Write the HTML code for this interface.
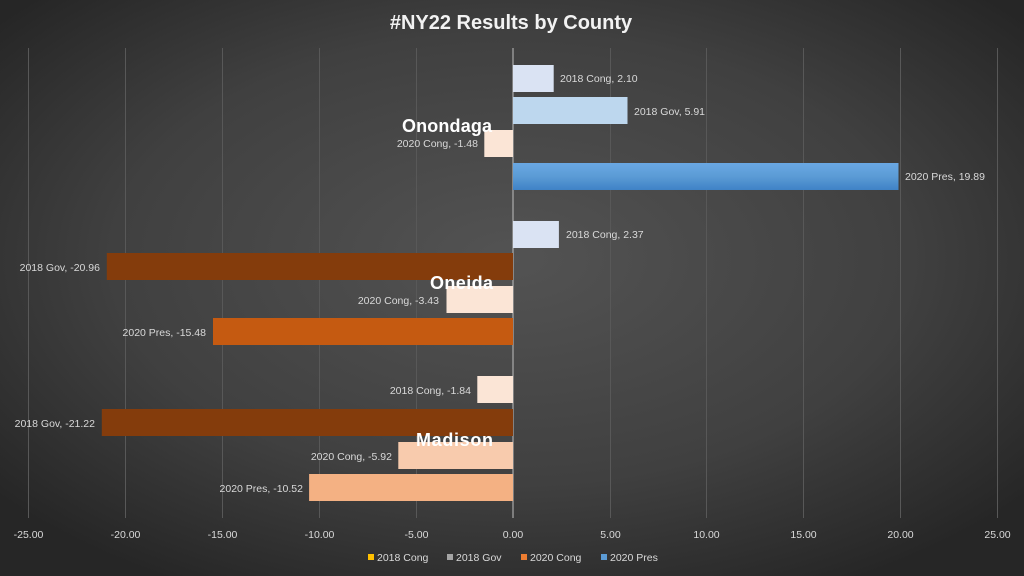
<!DOCTYPE html>
<html><head><meta charset="utf-8"><style>
html,body{margin:0;padding:0;width:1024px;height:576px;overflow:hidden;background:#333}
svg{display:block}
text{font-family:"Liberation Sans",sans-serif}
</style></head><body>
<svg width="1024" height="576" viewBox="0 0 1024 576" xmlns="http://www.w3.org/2000/svg">
<defs>
<radialGradient id="bg" cx="50%" cy="45%" r="65%">
<stop offset="0" stop-color="#535353"/>
<stop offset="0.6" stop-color="#404040"/>
<stop offset="1" stop-color="#262626"/>
</radialGradient>
<linearGradient id="blue" x1="0" y1="0" x2="0" y2="1">
<stop offset="0" stop-color="#6aa8e4"/><stop offset="0.5" stop-color="#5b9bd5"/><stop offset="1" stop-color="#3f82c6"/>
</linearGradient>
</defs>
<rect width="1024" height="576" fill="url(#bg)"/>
<g stroke="#585858" stroke-width="1">
<line x1="28.5" y1="48" x2="28.5" y2="518"/><line x1="125.5" y1="48" x2="125.5" y2="518"/>
<line x1="222.5" y1="48" x2="222.5" y2="518"/><line x1="319.5" y1="48" x2="319.5" y2="518"/>
<line x1="416.5" y1="48" x2="416.5" y2="518"/>
<line x1="610.5" y1="48" x2="610.5" y2="518"/><line x1="706.5" y1="48" x2="706.5" y2="518"/>
<line x1="803.5" y1="48" x2="803.5" y2="518"/><line x1="900.5" y1="48" x2="900.5" y2="518"/>
<line x1="997.5" y1="48" x2="997.5" y2="518"/>
</g>
<line x1="513" y1="48" x2="513" y2="518" stroke="#bfbfbf" stroke-width="1"/>
<text x="511" y="29" text-anchor="middle" fill="#f2f2f2" font-size="20" font-weight="bold">#NY22 Results by County</text>
<!-- Onondaga -->
<rect x="513" y="65" width="40.7" height="27" fill="#dae3f3"/>
<rect x="513" y="97" width="114.5" height="27" fill="#bdd7ee"/>
<rect x="484.3" y="130" width="28.7" height="27" fill="#fbe5d6"/>
<rect x="513" y="163" width="385.5" height="27" fill="url(#blue)"/>
<!-- Oneida -->
<rect x="513" y="221" width="45.9" height="27" fill="#dae3f3"/>
<rect x="106.8" y="253" width="406.2" height="27" fill="#843c0c"/>
<rect x="446.5" y="286" width="66.5" height="27" fill="#fbe5d6"/>
<rect x="213" y="318" width="300" height="27" fill="#c55a11"/>
<!-- Madison -->
<rect x="477.3" y="376" width="35.7" height="27" fill="#fbe5d6"/>
<rect x="101.8" y="409" width="411.2" height="27" fill="#843c0c"/>
<rect x="398.3" y="442" width="114.7" height="27" fill="#f8cbad"/>
<rect x="309.1" y="474" width="203.9" height="27" fill="#f4b183"/>
<g fill="#d9d9d9" font-size="10.5">
<text x="560" y="82">2018 Cong, 2.10</text>
<text x="634" y="115">2018 Gov, 5.91</text>
<text x="478" y="147" text-anchor="end">2020 Cong, -1.48</text>
<text x="905" y="180">2020 Pres, 19.89</text>
<text x="566" y="238">2018 Cong, 2.37</text>
<text x="100" y="271" text-anchor="end">2018 Gov, -20.96</text>
<text x="439" y="304" text-anchor="end">2020 Cong, -3.43</text>
<text x="206" y="336" text-anchor="end">2020 Pres, -15.48</text>
<text x="471" y="394" text-anchor="end">2018 Cong, -1.84</text>
<text x="95" y="427" text-anchor="end">2018 Gov, -21.22</text>
<text x="392" y="460" text-anchor="end">2020 Cong, -5.92</text>
<text x="303" y="492" text-anchor="end">2020 Pres, -10.52</text>
</g>
<g fill="#ffffff" font-size="18" font-weight="bold">
<text x="402" y="132" textLength="90">Onondaga</text>
<text x="430" y="289" textLength="63">Oneida</text>
<text x="416" y="446" textLength="77">Madison</text>
</g>
<g fill="#d9d9d9" font-size="10.5" text-anchor="middle">
<text x="28.5" y="538">-25.00</text><text x="125.5" y="538">-20.00</text>
<text x="222.5" y="538">-15.00</text><text x="319.5" y="538">-10.00</text>
<text x="416.5" y="538">-5.00</text><text x="513" y="538">0.00</text>
<text x="610.5" y="538">5.00</text><text x="706.5" y="538">10.00</text>
<text x="803.5" y="538">15.00</text><text x="900.5" y="538">20.00</text>
<text x="997.5" y="538">25.00</text>
</g>
<g font-size="10.5" fill="#d9d9d9">
<rect x="368" y="554" width="6" height="6" fill="#ffc000"/><text x="377" y="561">2018 Cong</text>
<rect x="447" y="554" width="6" height="6" fill="#a5a5a5"/><text x="456" y="561">2018 Gov</text>
<rect x="521" y="554" width="6" height="6" fill="#ed7d31"/><text x="530" y="561">2020 Cong</text>
<rect x="601" y="554" width="6" height="6" fill="#5b9bd5"/><text x="610" y="561">2020 Pres</text>
</g>
</svg>
</body></html>
